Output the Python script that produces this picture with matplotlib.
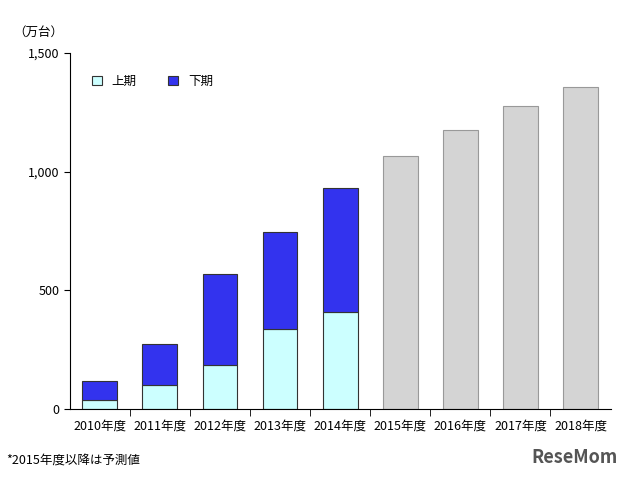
import matplotlib
matplotlib.use("Agg")
import matplotlib.pyplot as plt
from matplotlib.ticker import FuncFormatter

plt.rcParams["font.family"] = ["Noto Sans CJK JP", "DejaVu Sans"]

years = ["2010年度", "2011年度", "2012年度", "2013年度", "2014年度",
         "2015年度", "2016年度", "2017年度", "2018年度"]
first_half = [38, 101, 185, 336, 408]
second_half = [80, 172, 382, 408, 521]
forecast = [1067, 1176, 1277, 1357]

fig = plt.figure(figsize=(6.4, 4.8), dpi=100)
ax = fig.add_axes([0.109, 0.148, 0.845, 0.742])

n_act = len(first_half)
xa = list(range(n_act))
ax.bar(xa, first_half, width=0.58, color="#ccffff", edgecolor="#333333", linewidth=0.8, label="上期")
ax.bar(xa, second_half, width=0.58, bottom=first_half, color="#3333ee", edgecolor="#333333",
       linewidth=0.8, label="下期")
xf = list(range(n_act, len(years)))
ax.bar(xf, forecast, width=0.58, color="#d4d4d4", edgecolor="#999999", linewidth=0.8)

ax.set_xlim(-0.5, len(years) - 0.5)
ax.set_ylim(0, 1500)
ax.set_yticks([0, 500, 1000, 1500])
ax.yaxis.set_major_formatter(FuncFormatter(lambda v, p: f"{int(v):,}"))
ax.set_xticks(range(len(years)))
ax.set_xticklabels(years, fontsize=9)
ax.tick_params(axis="y", labelsize=9, length=4, direction="out")
ax.tick_params(axis="x", length=0, pad=8)
ax.set_xticks([i + 0.5 for i in range(len(years) - 1)], minor=True)
ax.tick_params(axis="x", which="minor", length=5, direction="out")
for s in ["top", "right"]:
    ax.spines[s].set_visible(False)

ax.legend(loc="upper left", bbox_to_anchor=(0.02, 0.97), ncol=2, frameon=False, fontsize=9,
          handlelength=0.8, handleheight=0.8, columnspacing=2.5)
fig.text(0.02, 0.925, "（万台）", fontsize=9)
fig.text(0.01, 0.035, "*2015年度以降は予測値", fontsize=9)
fig.text(0.83, 0.035, "ReseMom", fontsize=13, color="#555555", fontweight="bold")

fig.savefig("out.png")
